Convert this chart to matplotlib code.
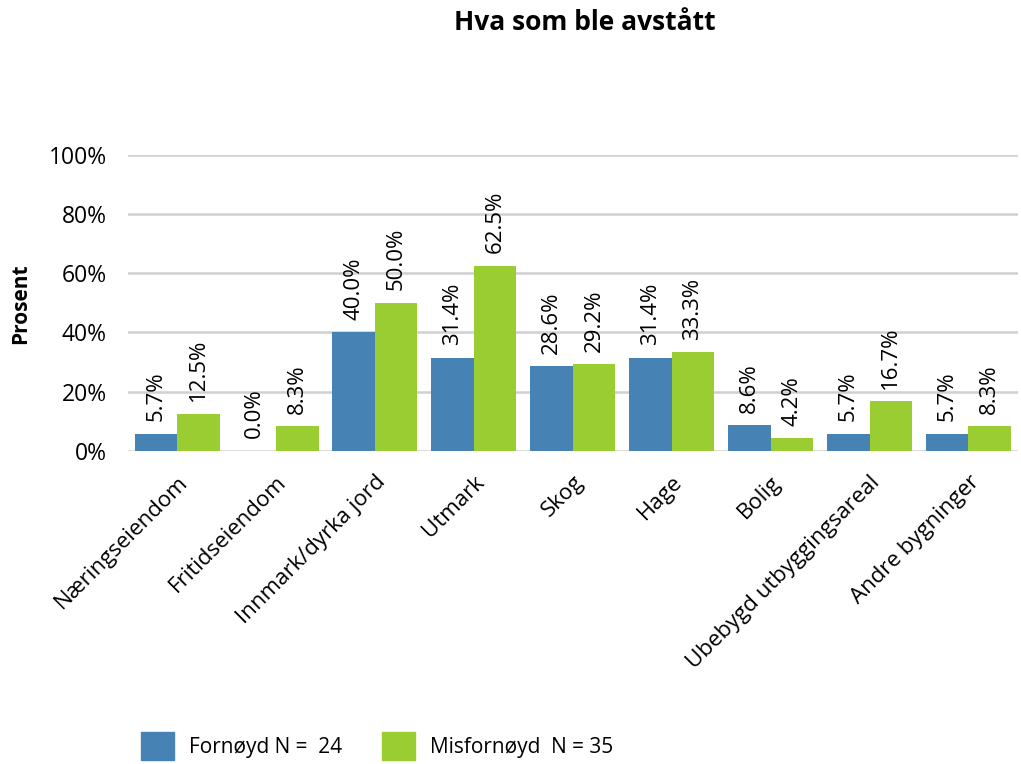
import matplotlib.pyplot as plt
import numpy as np
from matplotlib.patches import Patch

plt.rcParams['font.family'] = ['Open Sans', 'DejaVu Sans']

kategorier = ['Næringseiendom', 'Fritidseiendom', 'Innmark/dyrka jord', 'Utmark', 'Skog',
              'Hage', 'Bolig', 'Ubebygd utbyggingsareal', 'Andre bygninger']
fornoyd = [5.7, 0.0, 40.0, 31.4, 28.6, 31.4, 8.6, 5.7, 5.7]
misfornoyd = [12.5, 8.3, 50.0, 62.5, 29.2, 33.3, 4.2, 16.7, 8.3]
serier = ['Fornøyd N =  24', 'Misfornøyd  N = 35']
farger = ['#4682b4', '#9acd32']

fig = plt.figure(figsize=(10.21, 7.64), dpi=100)
ax = fig.add_axes([0.125, 0.41, 0.872, 0.387])

x = np.arange(len(kategorier))
w = 0.43
b1 = ax.bar(x - w / 2, fornoyd, w, color=farger[0], zorder=3)
b2 = ax.bar(x + w / 2, misfornoyd, w, color=farger[1], zorder=3)

# verdietiketter over stolpene
for bars, vals in [(b1, fornoyd), (b2, misfornoyd)]:
    for b, v in zip(bars, vals):
        ax.annotate(f'{v:.1f}%', (b.get_x() + b.get_width() / 2, v),
                    xytext=(0, 9), textcoords='offset points',
                    rotation=90, ha='center', va='bottom', fontsize=16)

ax.set_xlim(-0.5, len(kategorier) - 0.5)
ax.set_ylim(0, 100)
ax.set_yticks(range(0, 101, 20))
ax.set_yticklabels([f'{t}%' for t in range(0, 101, 20)], fontsize=16.5)
ax.set_xticks(x)
ax.set_xticklabels(kategorier, rotation=45, ha='right', va='top',
                   rotation_mode='anchor', fontsize=16)
ax.tick_params(axis='x', length=0, pad=15)
ax.tick_params(axis='y', length=0, pad=15)
ax.grid(axis='y', color='#d0d0d0', linewidth=1.8, zorder=0)
for s in ax.spines.values():
    s.set_visible(False)

fig.text(0.02, 0.603, 'Prosent', rotation=90, ha='center', va='center',
         fontsize=15, fontweight='bold')
fig.text(0.573, 0.971, 'Hva som ble avstått', ha='center', va='center',
         fontsize=19, fontweight='bold')

handles = [Patch(color=farger[0]), Patch(color=farger[1])]
fig.legend(handles, serier, loc='lower left', bbox_to_anchor=(0.1195, -0.019),
           ncol=2, frameon=False, fontsize=15, handlelength=1.6, handleheight=1.65,
           columnspacing=1.9, handletextpad=0.72)

fig.savefig('out.png', dpi=100)
